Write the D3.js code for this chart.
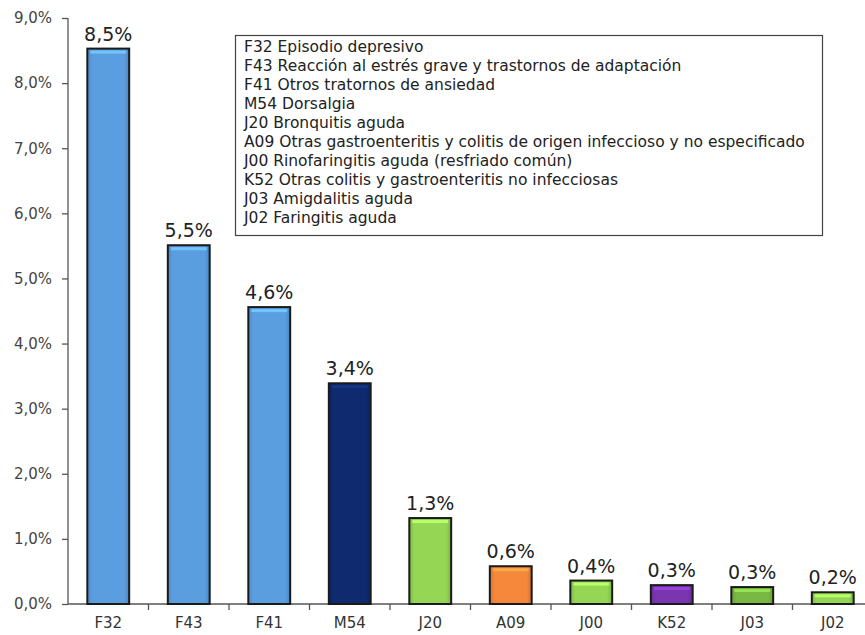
<!DOCTYPE html>
<html>
<head>
<meta charset="utf-8">
<script src="https://cdn.jsdelivr.net/npm/d3@7"></script>
<style>
  body { margin: 0; background: #fff; }
  text { font-family: "DejaVu Sans", Verdana, sans-serif; }
</style>
</head>
<body>
<script>
const codes = ['F32', 'F43', 'F41', 'M54', 'J20', 'A09', 'J00', 'K52', 'J03', 'J02']
const values = [8.53, 5.51, 4.56, 3.39, 1.32, 0.58, 0.36, 0.29, 0.26, 0.18]
const colors = ['#5b9ee0', '#5b9ee0', '#5b9ee0', '#0f2a6e', '#95d655', '#f5883a', '#95d655', '#7a35b0', '#79b843', '#95d655']
const legendLines = [
  'F32 Episodio depresivo',
  'F43 Reacción al estrés grave y trastornos de adaptación',
  'F41 Otros tratornos de ansiedad',
  'M54 Dorsalgia',
  'J20 Bronquitis aguda',
  'A09 Otras gastroenteritis y colitis de origen infeccioso y no especificado',
  'J00 Rinofaringitis aguda (resfriado común)',
  'K52 Otras colitis y gastroenteritis no infecciosas',
  'J03 Amigdalitis aguda',
  'J02 Faringitis aguda'
]
const yTicks = [0, 1, 2, 3, 4, 5, 6, 7, 8, 9]

const w = 865
const h = 635
const padLeft = 68
const plotTop = 18
const plotBottom = 604

const svg = d3.select('body')
  .append('svg')
  .attr('width', w)
  .attr('height', h)

const x = d3.scaleBand()
  .domain(codes)
  .range([padLeft, padLeft + 805])
  .paddingInner(0.48)
  .paddingOuter(0.24)

const y = d3.scaleLinear()
  .domain([0, 9])
  .range([plotBottom, plotTop])

const fmt = v => v.toFixed(1).replace('.', ',') + '%'

// bevel-ish gradient per bar colour
const defs = svg.append('defs')
colors.forEach((c, i) => {
  const g = defs.append('linearGradient')
    .attr('id', 'g' + i)
    .attr('x1', 0).attr('x2', 1).attr('y1', 0).attr('y2', 0)
  g.append('stop').attr('offset', '0%').attr('stop-color', d3.color(c).darker(0.4))
  g.append('stop').attr('offset', '12%').attr('stop-color', c)
  g.append('stop').attr('offset', '88%').attr('stop-color', c)
  g.append('stop').attr('offset', '100%').attr('stop-color', d3.color(c).darker(0.5))
})

// y axis
const yAxis = d3.axisLeft(y)
  .tickValues(yTicks)
  .tickFormat(d => d.toFixed(1).replace('.', ',') + '%')
  .tickSize(6)
  .tickPadding(10)
const gy = svg.append('g')
  .attr('transform', 'translate(' + padLeft + ',0)')
  .call(yAxis)
gy.select('.domain').attr('stroke', '#555').attr('stroke-width', 1.3).attr('d', 'M0,' + plotTop + 'V' + plotBottom)
gy.selectAll('.tick line').attr('stroke', '#555').attr('stroke-width', 1.3)
gy.selectAll('.tick text').attr('fill', '#444').style('font-size', '15px')

// x axis
const step = x.step()
const gx = svg.append('g')
  .attr('transform', 'translate(0,' + plotBottom + ')')
gx.append('line')
  .attr('x1', padLeft).attr('x2', w)
  .attr('stroke', '#555').attr('stroke-width', 1.3)
gx.selectAll('.sep')
  .data(codes.slice(1))
  .enter()
  .append('line')
  .attr('x1', d => x(d) - x.paddingInner() * step / 2)
  .attr('x2', d => x(d) - x.paddingInner() * step / 2)
  .attr('y1', 0).attr('y2', 6)
  .attr('stroke', '#555').attr('stroke-width', 1.3)
gx.selectAll('.lbl')
  .data(codes)
  .enter()
  .append('text')
  .attr('x', d => x(d) + x.bandwidth() / 2)
  .attr('y', 24)
  .attr('text-anchor', 'middle')
  .attr('fill', '#333')
  .style('font-size', '15px')
  .text(d => d)

// bars
svg.selectAll('.bar')
  .data(values)
  .enter()
  .append('rect')
  .attr('x', (d, i) => x(codes[i]))
  .attr('y', d => y(d))
  .attr('width', x.bandwidth())
  .attr('height', d => plotBottom - y(d))
  .attr('fill', (d, i) => 'url(#g' + i + ')')
  .attr('stroke', '#1a1a1a')
  .attr('stroke-width', 2)

// top highlight
svg.selectAll('.hl')
  .data(values)
  .enter()
  .append('rect')
  .attr('x', (d, i) => x(codes[i]) + 3)
  .attr('y', d => y(d) + 2)
  .attr('width', x.bandwidth() - 6)
  .attr('height', 3)
  .attr('fill', (d, i) => d3.color(colors[i]).brighter(0.6))

// value labels
svg.selectAll('.val')
  .data(values)
  .enter()
  .append('text')
  .attr('x', (d, i) => x(codes[i]) + x.bandwidth() / 2)
  .attr('y', d => y(d) - 8)
  .attr('text-anchor', 'middle')
  .attr('fill', '#222')
  .style('font-size', '19px')
  .text(fmt)

// legend box
const lg = svg.append('g')
lg.append('rect')
  .attr('x', 235.5).attr('y', 35.5)
  .attr('width', 587).attr('height', 200)
  .attr('fill', '#fff')
  .attr('stroke', '#444')
  .attr('stroke-width', 1.2)
lg.selectAll('text')
  .data(legendLines)
  .enter()
  .append('text')
  .attr('x', 244)
  .attr('y', (d, i) => 52 + i * 19)
  .attr('fill', '#222')
  .style('font-size', '15.5px')
  .text(d => d)
</script>
</body>
</html>
